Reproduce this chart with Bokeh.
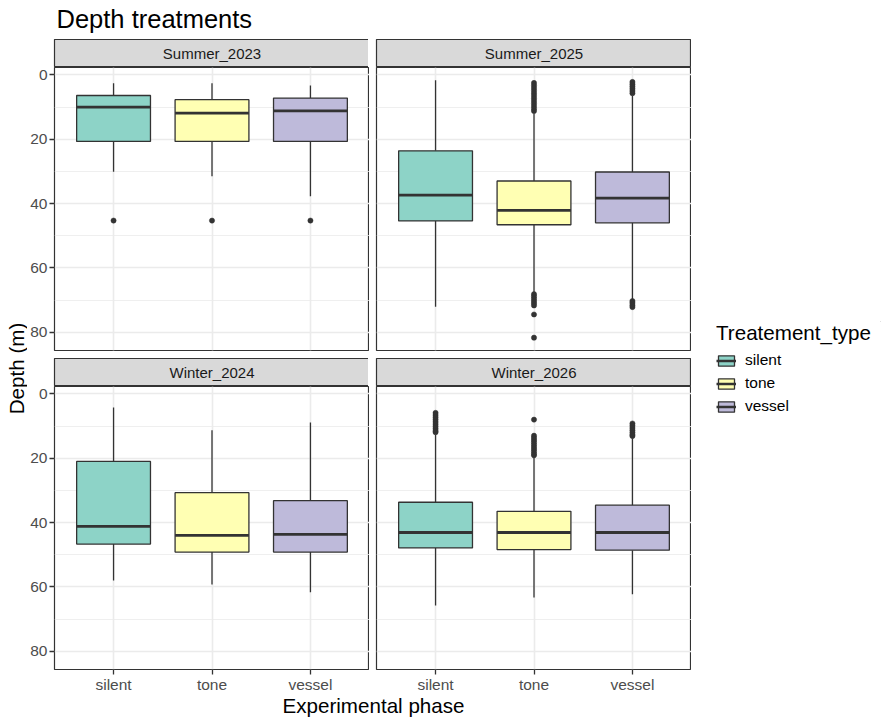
import math
from bokeh.plotting import figure
from bokeh.models import (Range1d, FactorRange, FixedTicker, CategoricalTicker,
                          LinearAxis, CategoricalAxis, Grid, Legend, LegendItem,
                          ColumnDataSource, Label)
from bokeh.layouts import row, column
from bokeh.embed import file_html
from bokeh.resources import INLINE
from bokeh.core.properties import value

# ---------------- data ----------------
facets = ["Summer_2023", "Summer_2025", "Winter_2024", "Winter_2026"]
treatments = ["silent", "tone", "vessel"]
fill_colors = ["#8DD3C7", "#FFFFB3", "#BEBADA"]

whisker_min = {
    "Summer_2023": [2.6, 2.6, 3.3],
    "Summer_2025": [1.7, 11.9, 6.4],
    "Winter_2024": [4.2, 11.3, 8.9],
    "Winter_2026": [12.6, 19.8, 13.8],
}
q1 = {
    "Summer_2023": [6.4, 7.7, 7.2],
    "Summer_2025": [23.6, 33.0, 30.2],
    "Winter_2024": [21.0, 30.7, 33.2],
    "Winter_2026": [33.7, 36.5, 34.6],
}
median = {
    "Summer_2023": [10.0, 11.9, 11.2],
    "Summer_2025": [37.4, 42.1, 38.3],
    "Winter_2024": [41.2, 44.0, 43.7],
    "Winter_2026": [43.1, 43.1, 43.1],
}
q3 = {
    "Summer_2023": [20.7, 20.7, 20.7],
    "Summer_2025": [45.4, 46.6, 46.0],
    "Winter_2024": [46.7, 49.2, 49.2],
    "Winter_2026": [47.9, 48.4, 48.6],
}
whisker_max = {
    "Summer_2023": [30.1, 31.5, 37.7],
    "Summer_2025": [72.1, 67.5, 69.7],
    "Winter_2024": [58.0, 59.3, 61.7],
    "Winter_2026": [65.8, 63.3, 62.3],
}
outliers = {
    "Summer_2023": {"silent": [45.3], "tone": [45.3], "vessel": [45.3]},
    "Summer_2025": {
        "silent": [],
        "tone": [2.5, 3.3, 4.1, 4.9, 5.7, 6.5, 7.3, 8.1, 8.9, 9.7, 10.5, 11.2,
                 68.2, 68.9, 69.6, 70.3, 71.0, 71.7, 74.5, 81.7],
        "vessel": [2.2, 2.9, 3.6, 4.3, 5.0, 5.7, 70.3, 70.9, 71.6, 72.2],
    },
    "Winter_2024": {"silent": [], "tone": [], "vessel": []},
    "Winter_2026": {
        "silent": [5.9, 6.6, 7.3, 8.0, 8.7, 9.4, 10.1, 10.8, 11.5, 11.9],
        "tone": [8.0, 13.0, 13.7, 14.4, 15.1, 15.8, 16.5, 17.2, 17.9, 18.6, 19.1],
        "vessel": [9.2, 9.9, 10.6, 11.3, 12.0, 12.7, 13.1],
    },
}
y_major_ticks = [0, 20, 40, 60, 80]
y_minor_ticks = [10, 30, 50, 70]

chart_title = "Depth treatments"
x_title = "Experimental phase"
y_title = "Depth (m)"
legend_title = "Treatement_type"

# ---------------- style / layout ----------------
FONT = "Liberation Sans"
DARK = "#333333"
GRID = "#EBEBEB"
FW, FH = 315, 283
STRIP_H = 28
GAP = 8
LEFT_B = 26
MID_GAP = 7
BOTTOM_B = 24
YL_W = 27
LEG_W = 190
TITLE_H = 39
XL_H = 26
TOTAL_W = YL_W + LEFT_B + FW + MID_GAP + FW + LEG_W
ROW_H = STRIP_H + FH + GAP + STRIP_H + FH + BOTTOM_B
ROW_TOP = TITLE_H
LEG_X0 = YL_W + LEFT_B + FW + MID_GAP + FW

# y range: data extent with 5% expansion, reversed (depth increases downward)
vals = []
for f in facets:
    vals += whisker_min[f] + whisker_max[f]
    for t in treatments:
        vals += outliers[f][t]
lo, hi = min(vals), max(vals)
pad = 0.05 * (hi - lo)
Y_START, Y_END = hi + pad, lo - pad


def blank_fig(w, h, xr, yr, left=0, top=0, bottom=0, outline=None, bg="white"):
    p = figure(frame_width=int(w), frame_height=int(h), x_range=xr, y_range=yr,
               x_axis_location=None, y_axis_location=None,
               toolbar_location=None, output_backend="svg",
               min_border_left=int(left), min_border_right=0,
               min_border_top=int(top), min_border_bottom=int(bottom),
               outline_line_color=outline, background_fill_color=bg,
               border_fill_color="white")
    p.grid.visible = False
    return p


def strip_fig(name, left_b):
    s = blank_fig(FW, STRIP_H, Range1d(0, 1), Range1d(0, 1), left=left_b,
                  outline=DARK, bg="#D9D9D9")
    s.outline_line_width = 1.2
    s.text(x=[0.5], y=[0.5], text=[name], text_align="center", text_baseline="middle",
           text_font=value(FONT), text_font_size=value("15px"), text_color="#1A1A1A")
    return s


def style_axis(ax):
    ax.axis_line_color = None
    ax.major_tick_line_color = DARK
    ax.major_tick_line_width = 1.3
    ax.major_tick_in = 0
    ax.major_tick_out = 5
    ax.minor_tick_line_color = None
    ax.major_label_standoff = 2
    ax.major_label_text_font = FONT
    ax.major_label_text_font_size = "15.5px"
    ax.major_label_text_color = "#4D4D4D"


def panel_fig(facet, show_y, show_x):
    xr = FactorRange(factors=treatments, range_padding=0.2 / 3, range_padding_units="percent")
    p = figure(frame_width=FW, frame_height=FH, x_range=xr, y_range=Range1d(Y_START, Y_END),
               x_axis_location=None, y_axis_location=None,
               toolbar_location=None, output_backend="svg",
               min_border_left=LEFT_B if show_y else MID_GAP, min_border_right=0,
               min_border_top=0, min_border_bottom=BOTTOM_B if show_x else GAP,
               background_fill_color="white", border_fill_color="white")
    p.grid.visible = False
    p.outline_line_color = DARK
    p.outline_line_width = 1.2
    p.add_layout(Grid(dimension=1, ticker=FixedTicker(ticks=y_major_ticks, minor_ticks=y_minor_ticks),
                      grid_line_color=GRID, grid_line_width=1.6,
                      minor_grid_line_color=GRID, minor_grid_line_width=0.8), "center")
    p.add_layout(Grid(dimension=0, ticker=CategoricalTicker(),
                      grid_line_color=GRID, grid_line_width=1.6), "center")
    if show_y:
        ay = LinearAxis(ticker=FixedTicker(ticks=y_major_ticks))
        style_axis(ay)
        p.add_layout(ay, "left")
    if show_x:
        ax = CategoricalAxis(ticker=CategoricalTicker())
        style_axis(ax)
        ax.major_label_standoff = 1
        p.add_layout(ax, "below")

    src = ColumnDataSource(dict(x=treatments, lo=whisker_min[facet], q1=q1[facet],
                                med=median[facet], q3=q3[facet], hi=whisker_max[facet],
                                color=fill_colors))
    ox, oy = [], []
    for t in treatments:
        ox += [t] * len(outliers[facet][t])
        oy += outliers[facet][t]
    if ox:
        p.scatter(x=ox, y=oy, size=5.2, fill_color=DARK, line_color=DARK, line_width=0.5)
    p.segment(x0="x", y0="lo", x1="x", y1="q1", source=src, line_color=DARK, line_width=1.3)
    p.segment(x0="x", y0="q3", x1="x", y1="hi", source=src, line_color=DARK, line_width=1.3)
    p.vbar(x="x", width=0.75, bottom="q1", top="q3", source=src,
           fill_color="color", line_color=DARK, line_width=1.3)
    p.rect(x="x", y="med", width=0.75, height=2.8, height_units="screen", source=src,
           fill_color=DARK, line_color=None)
    return p


# panels
tl = panel_fig("Summer_2023", True, False)
tr = panel_fig("Summer_2025", False, False)
bl = panel_fig("Winter_2024", True, True)
br = panel_fig("Winter_2026", False, True)

left_col = column(strip_fig("Summer_2023", LEFT_B), tl, strip_fig("Winter_2024", LEFT_B), bl)
right_col = column(strip_fig("Summer_2025", MID_GAP), tr, strip_fig("Winter_2026", MID_GAP), br)

# chart title
title_f = blank_fig(TOTAL_W, TITLE_H, Range1d(0, TOTAL_W), Range1d(0, TITLE_H))
title_f.text(x=[56], y=[TITLE_H - 18.8], text=[chart_title],
             text_align="left", text_baseline="middle",
             text_font=value(FONT), text_font_size=value("25.5px"), text_color="black")

# y axis title: a screen-unit Label in a narrow full-height figure
ylab_f = figure(width=YL_W, height=ROW_H, x_range=Range1d(0, YL_W), y_range=Range1d(0, ROW_H),
                x_axis_location=None, y_axis_location=None,
                toolbar_location=None, output_backend="svg",
                min_border_left=0, min_border_right=0, min_border_top=0, min_border_bottom=0,
                outline_line_color=None, border_fill_color="white", background_fill_color="white")
ylab_f.grid.visible = False
ylab_f.add_layout(Label(x=16, y=ROW_H - (368 - ROW_TOP), x_units="screen", y_units="screen",
                        text=y_title, angle=math.pi / 2, text_align="center",
                        text_baseline="middle", text_font=FONT, text_font_size="20.6px",
                        text_color="black"))

# legend: frame top-left placed at the legend's top-left corner
LEG_TOP = 321
LEG_LEFT = 715
leg_f = blank_fig(LEG_W - (LEG_LEFT - LEG_X0), ROW_H - (LEG_TOP - ROW_TOP),
                  Range1d(0, 1), Range1d(0, 1),
                  left=LEG_LEFT - LEG_X0, top=LEG_TOP - ROW_TOP)
items = []
for t, c in zip(treatments, fill_colors):
    rb = leg_f.vbar(x=[5], width=0.5, top=[5], bottom=[6], fill_color=c, line_color=DARK, line_width=1.3)
    rm = leg_f.segment(x0=[5], y0=[5], x1=[6], y1=[6], line_color=DARK, line_width=2.5)
    items.append(LegendItem(label=t, renderers=[rb, rm]))
leg = Legend(items=items, location="top_left", orientation="vertical",
             title=legend_title, title_text_font=FONT, title_text_font_size="20.6px",
             title_text_color="black", title_text_font_style="normal", title_standoff=6,
             label_text_font=FONT, label_text_font_size="15.5px", label_text_color="black",
             glyph_width=20, glyph_height=13, label_height=13, label_standoff=9, spacing=5,
             padding=0, margin=0, border_line_color=None, background_fill_alpha=0)
leg_f.add_layout(leg, "center")

# x axis title
xl_top = ROW_TOP + ROW_H
xlab_f = blank_fig(TOTAL_W, XL_H, Range1d(0, TOTAL_W), Range1d(0, XL_H))
xlab_f.text(x=[373], y=[xl_top + XL_H - 703], text=[x_title],
            text_align="center", text_baseline="middle",
            text_font=value(FONT), text_font_size=value("20.6px"), text_color="black")

layout = column(title_f, row(ylab_f, left_col, right_col, leg_f), xlab_f)

open("out.html", "w").write(file_html(layout, INLINE))
